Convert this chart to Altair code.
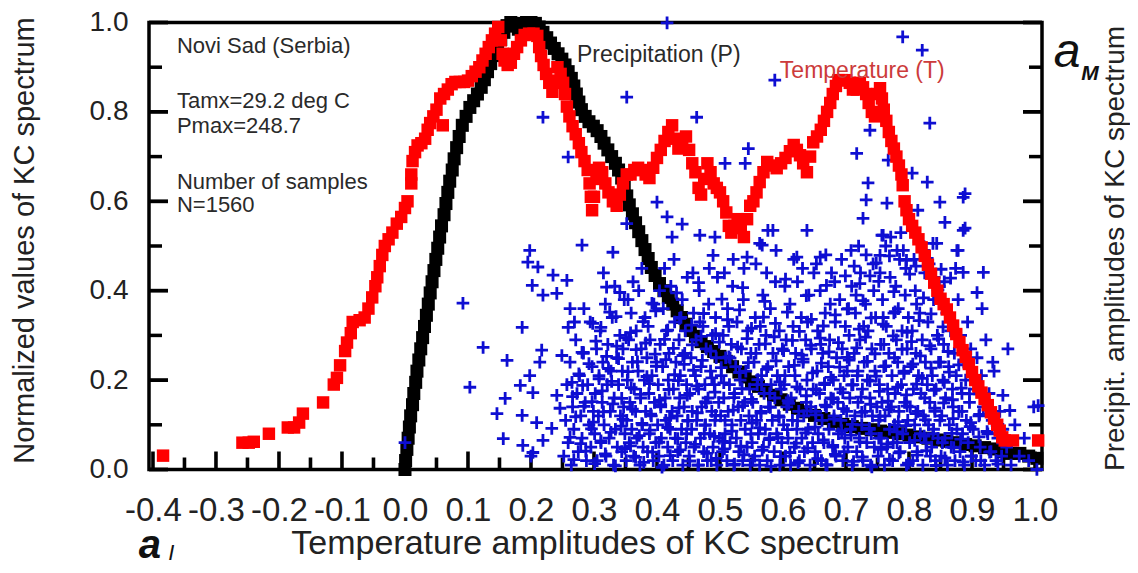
import altair as alt
import pandas as pd

FONT = "Liberation Sans"

# ---------------- data ----------------
temp_x = [-0.384, -0.258, -0.248, -0.240, -0.216, -0.186, -0.176, -0.168, -0.162, -0.130,
          -0.113, -0.108, -0.103, -0.095, -0.092, -0.086, -0.083, -0.072, -0.064, -0.058,
          -0.052, -0.047, -0.044, -0.040, -0.036, -0.032, -0.026, -0.020, -0.013, -0.006,
          0.000, 0.004, 0.010, 0.010, 0.012, 0.016, 0.020, 0.026, 0.032, 0.036,
          0.040, 0.045, 0.050, 0.056, 0.060, 0.062, 0.068, 0.074, 0.080, 0.087,
          0.094, 0.100, 0.106, 0.112, 0.118, 0.123, 0.128, 0.133, 0.138, 0.143,
          0.148, 0.152, 0.155, 0.158, 0.163, 0.168, 0.173, 0.178, 0.184, 0.190,
          0.197, 0.204, 0.210, 0.213, 0.216, 0.220, 0.224, 0.229, 0.234, 0.238,
          0.242, 0.247, 0.251, 0.254, 0.257, 0.261, 0.266, 0.271, 0.276, 0.280,
          0.285, 0.290, 0.293, 0.295, 0.297, 0.300, 0.304, 0.308, 0.313, 0.318,
          0.323, 0.330, 0.336, 0.341, 0.346, 0.352, 0.358, 0.364, 0.370, 0.376,
          0.382, 0.388, 0.394, 0.400, 0.406, 0.412, 0.418, 0.424, 0.429, 0.434,
          0.440, 0.446, 0.451, 0.456, 0.461, 0.466, 0.470, 0.475, 0.480, 0.485,
          0.490, 0.495, 0.500, 0.505, 0.510, 0.514, 0.518, 0.523, 0.528, 0.533,
          0.538, 0.543, 0.548, 0.553, 0.558, 0.563, 0.569, 0.575, 0.582, 0.590,
          0.597, 0.604, 0.611, 0.617, 0.622, 0.627, 0.632, 0.638, 0.643, 0.648,
          0.654, 0.660, 0.665, 0.670, 0.675, 0.679, 0.684, 0.688, 0.694, 0.700,
          0.706, 0.711, 0.717, 0.722, 0.727, 0.732, 0.736, 0.741, 0.746, 0.750,
          0.754, 0.757, 0.760, 0.764, 0.768, 0.772, 0.776, 0.780, 0.784, 0.788,
          0.790, 0.793, 0.796, 0.800, 0.805, 0.810, 0.815, 0.820, 0.825, 0.830,
          0.835, 0.840, 0.845, 0.850, 0.855, 0.860, 0.865, 0.870, 0.875, 0.880,
          0.885, 0.890, 0.895, 0.900, 0.905, 0.910, 0.915, 0.920, 0.925, 0.930,
          0.935, 0.940, 0.944, 0.948, 0.952, 0.965, 1.005]
temp_y = [0.031, 0.060, 0.060, 0.062, 0.080, 0.094, 0.094, 0.105, 0.125, 0.150,
          0.190, 0.205, 0.233, 0.265, 0.284, 0.305, 0.330, 0.334, 0.340, 0.360,
          0.385, 0.410, 0.430, 0.455, 0.480, 0.500, 0.515, 0.530, 0.550, 0.565,
          0.585, 0.600, 0.640, 0.660, 0.690, 0.710, 0.725, 0.730, 0.740, 0.760,
          0.775, 0.790, 0.805, 0.830, 0.770, 0.840, 0.850, 0.862, 0.867, 0.867,
          0.867, 0.870, 0.880, 0.890, 0.900, 0.915, 0.930, 0.945, 0.960, 0.975,
          0.990, 0.960, 0.930, 0.915, 0.905, 0.910, 0.930, 0.945, 0.960, 0.972,
          0.975, 0.975, 0.970, 0.945, 0.925, 0.905, 0.885, 0.865, 0.845, 0.870,
          0.900, 0.885, 0.865, 0.840, 0.812, 0.790, 0.768, 0.750, 0.730, 0.710,
          0.690, 0.670, 0.640, 0.610, 0.580, 0.610, 0.650, 0.675, 0.665, 0.640,
          0.620, 0.600, 0.590, 0.615, 0.640, 0.660, 0.660, 0.670, 0.675, 0.670,
          0.660, 0.652, 0.675, 0.697, 0.715, 0.735, 0.755, 0.770, 0.740, 0.718,
          0.730, 0.745, 0.715, 0.685, 0.665, 0.630, 0.615, 0.650, 0.685, 0.665,
          0.640, 0.630, 0.620, 0.600, 0.575, 0.545, 0.530, 0.545, 0.560, 0.540,
          0.520, 0.560, 0.590, 0.600, 0.620, 0.643, 0.665, 0.688, 0.680, 0.674,
          0.685, 0.697, 0.712, 0.726, 0.715, 0.703, 0.685, 0.665, 0.700, 0.732,
          0.745, 0.760, 0.780, 0.800, 0.820, 0.840, 0.858, 0.871, 0.871, 0.871,
          0.865, 0.850, 0.850, 0.865, 0.855, 0.840, 0.820, 0.800, 0.790, 0.840,
          0.853, 0.830, 0.805, 0.780, 0.755, 0.735, 0.718, 0.700, 0.680, 0.660,
          0.636, 0.600, 0.580, 0.560, 0.545, 0.530, 0.515, 0.497, 0.478, 0.458,
          0.438, 0.418, 0.400, 0.382, 0.370, 0.358, 0.340, 0.322, 0.303, 0.285,
          0.267, 0.252, 0.236, 0.218, 0.200, 0.186, 0.172, 0.158, 0.144, 0.128,
          0.114, 0.100, 0.087, 0.072, 0.065, 0.065, 0.065]

prec_x = [0.000, 0.001, 0.003, 0.005, 0.007, 0.009, 0.012, 0.014, 0.017, 0.019,
          0.022, 0.025, 0.028, 0.031, 0.034, 0.037, 0.040, 0.043, 0.046, 0.049,
          0.052, 0.055, 0.058, 0.062, 0.065, 0.068, 0.071, 0.075, 0.078, 0.082,
          0.086, 0.091, 0.097, 0.103, 0.109, 0.115, 0.121, 0.126, 0.131, 0.136,
          0.141, 0.147, 0.152, 0.157, 0.162, 0.168, 0.174, 0.180, 0.186, 0.193,
          0.200, 0.207, 0.213, 0.219, 0.225, 0.231, 0.237, 0.243, 0.249, 0.254,
          0.259, 0.264, 0.268, 0.272, 0.276, 0.280, 0.286, 0.292, 0.299, 0.305,
          0.311, 0.316, 0.322, 0.328, 0.334, 0.339, 0.344, 0.348, 0.352, 0.356,
          0.361, 0.366, 0.371, 0.376, 0.381, 0.386, 0.391, 0.397, 0.404, 0.411,
          0.418, 0.425, 0.432, 0.439, 0.446, 0.453, 0.461, 0.470, 0.480, 0.490,
          0.500, 0.510, 0.520, 0.530, 0.540, 0.550, 0.561, 0.573, 0.585, 0.597,
          0.610, 0.623, 0.636, 0.650, 0.665, 0.680, 0.695, 0.710, 0.725, 0.740,
          0.755, 0.770, 0.785, 0.800, 0.815, 0.830, 0.845, 0.860, 0.875, 0.890,
          0.905, 0.920, 0.935, 0.950, 0.962, 0.976, 0.990, 1.003]
prec_y = [0.000, 0.020, 0.045, 0.070, 0.095, 0.120, 0.145, 0.170, 0.195, 0.220,
          0.245, 0.270, 0.295, 0.320, 0.345, 0.370, 0.395, 0.420, 0.445, 0.470,
          0.495, 0.520, 0.545, 0.570, 0.595, 0.620, 0.645, 0.670, 0.695, 0.720,
          0.745, 0.770, 0.790, 0.810, 0.825, 0.840, 0.855, 0.872, 0.890, 0.908,
          0.926, 0.944, 0.962, 0.978, 0.993, 1.000, 0.992, 0.985, 0.998, 1.000,
          1.000, 0.998, 0.990, 0.978, 0.966, 0.954, 0.942, 0.930, 0.918, 0.905,
          0.890, 0.875, 0.858, 0.840, 0.822, 0.805, 0.790, 0.778, 0.768, 0.758,
          0.745, 0.730, 0.715, 0.700, 0.685, 0.670, 0.652, 0.632, 0.612, 0.592,
          0.572, 0.552, 0.532, 0.512, 0.492, 0.472, 0.452, 0.434, 0.416, 0.400,
          0.385, 0.370, 0.355, 0.340, 0.325, 0.311, 0.298, 0.286, 0.275, 0.264,
          0.253, 0.242, 0.230, 0.218, 0.207, 0.196, 0.186, 0.176, 0.166, 0.156,
          0.146, 0.137, 0.129, 0.121, 0.114, 0.107, 0.101, 0.096, 0.092, 0.089,
          0.086, 0.083, 0.080, 0.077, 0.073, 0.070, 0.066, 0.063, 0.060, 0.056,
          0.053, 0.049, 0.046, 0.040, 0.036, 0.036, 0.030, 0.025]

# KC sample crosses (x, y)
kc_points = [
    # sparse outliers
    (0.416, 0.999), (0.790, 0.968), (0.821, 0.938), (0.587, 0.871), (0.833, 0.775),
    (0.352, 0.833), (0.219, 0.788), (0.463, 0.788), (0.738, 0.759), (0.259, 0.699),
    (0.545, 0.718), (0.508, 0.685), (0.540, 0.685), (0.717, 0.707), (0.767, 0.692),
    (0.805, 0.663), (0.829, 0.643), (0.735, 0.641), (0.732, 0.603), (0.765, 0.596),
    (0.886, 0.609), (0.849, 0.598), (0.814, 0.580), (0.400, 0.598), (0.416, 0.565),
    (0.440, 0.549), (0.352, 0.550), (0.727, 0.562), (0.857, 0.553), (0.886, 0.535),
    (0.584, 0.535), (0.638, 0.535), (0.424, 0.520), (0.468, 0.524), (0.492, 0.520),
    (0.576, 0.535), (0.281, 0.502), (0.330, 0.486), (0.198, 0.490), (0.563, 0.506),
    (0.759, 0.524), (0.838, 0.506), (0.878, 0.490), (0.489, 0.479), (0.543, 0.475),
    (0.754, 0.479), (0.781, 0.490), (0.622, 0.475), (0.659, 0.475), (0.567, 0.502),
    (0.195, 0.464), (0.211, 0.453), (0.235, 0.435), (0.257, 0.423), (0.202, 0.412),
    (0.219, 0.390), (0.241, 0.394), (0.092, 0.372), (0.262, 0.360), (0.186, 0.318),
    (0.259, 0.318), (0.298, 0.327), (0.320, 0.408), (0.341, 0.396), (0.325, 0.352),
    (0.124, 0.273), (0.217, 0.267), (0.249, 0.255), (0.162, 0.244), (0.198, 0.210),
    (0.214, 0.240), (0.183, 0.188), (0.103, 0.184), (0.203, 0.172), (0.159, 0.159),
    (0.241, 0.166), (0.146, 0.125), (0.186, 0.121), (0.209, 0.105), (0.233, 0.092),
    (0.156, 0.069), (0.187, 0.054), (0.203, 0.038), (0.219, 0.065), (0.000, 0.060),
    (0.246, 0.137), (0.265, 0.195), (0.283, 0.262), (0.918, 0.441), (0.886, 0.441),
    (0.908, 0.396), (0.916, 0.360), (0.933, 0.240), (0.949, 0.166), (0.960, 0.132),
    (1.005, 0.143), (0.957, 0.270), (0.889, 0.617), (0.889, 0.540), (0.844, 0.506),
    (0.876, 0.490), (0.757, 0.524), (0.200, 0.030),
    (0.713, 0.455), (0.748, 0.462), (0.769, 0.478), (0.796, 0.468), (0.811, 0.455),
    (0.829, 0.472), (0.851, 0.448), (0.866, 0.428), (0.738, 0.433), (0.722, 0.416),
    # 0.25 - 0.30
    (0.252, 0.03), (0.255, 0.11), (0.257, 0.19), (0.259, 0.06), (0.262, 0.24),
    (0.264, 0.01), (0.266, 0.14), (0.268, 0.09), (0.271, 0.29), (0.273, 0.17),
    (0.275, 0.04), (0.277, 0.21), (0.279, 0.12), (0.281, 0.07), (0.283, 0.26),
    (0.286, 0.15), (0.288, 0.02), (0.290, 0.19), (0.292, 0.10), (0.294, 0.33),
    (0.295, 0.05), (0.297, 0.23), (0.299, 0.13), (0.269, 0.33), (0.284, 0.36),
    # 0.30 - 0.35
    (0.301, 0.08), (0.302, 0.17), (0.304, 0.27), (0.305, 0.02), (0.307, 0.12),
    (0.308, 0.21), (0.310, 0.31), (0.311, 0.06), (0.313, 0.15), (0.314, 0.24),
    (0.316, 0.10), (0.318, 0.37), (0.319, 0.03), (0.321, 0.19), (0.322, 0.28),
    (0.324, 0.07), (0.326, 0.13), (0.327, 0.22), (0.329, 0.34), (0.331, 0.01),
    (0.332, 0.16), (0.334, 0.09), (0.336, 0.25), (0.337, 0.05), (0.339, 0.19),
    (0.341, 0.30), (0.342, 0.12), (0.344, 0.04), (0.345, 0.22), (0.347, 0.14),
    (0.348, 0.38), (0.349, 0.08), (0.333, 0.41), (0.315, 0.44), (0.346, 0.27),
    # 0.35 - 0.40
    (0.351, 0.02), (0.352, 0.11), (0.353, 0.20), (0.355, 0.29), (0.356, 0.06),
    (0.357, 0.15), (0.359, 0.35), (0.360, 0.09), (0.361, 0.24), (0.363, 0.03),
    (0.364, 0.18), (0.366, 0.13), (0.367, 0.31), (0.368, 0.07), (0.370, 0.22),
    (0.371, 0.40), (0.373, 0.01), (0.374, 0.16), (0.375, 0.27), (0.377, 0.10),
    (0.378, 0.05), (0.380, 0.20), (0.381, 0.34), (0.382, 0.13), (0.384, 0.25),
    (0.385, 0.04), (0.387, 0.17), (0.388, 0.08), (0.389, 0.29), (0.391, 0.12),
    (0.392, 0.21), (0.394, 0.02), (0.395, 0.37), (0.396, 0.15), (0.398, 0.06),
    (0.399, 0.24), (0.362, 0.42), (0.376, 0.45), (0.386, 0.32), (0.354, 0.38),
    # 0.40 - 0.45
    (0.401, 0.10), (0.402, 0.19), (0.403, 0.03), (0.405, 0.28), (0.406, 0.14),
    (0.407, 0.07), (0.409, 0.23), (0.410, 0.36), (0.411, 0.01), (0.413, 0.16),
    (0.414, 0.11), (0.415, 0.31), (0.417, 0.05), (0.418, 0.20), (0.419, 0.26),
    (0.421, 0.09), (0.422, 0.41), (0.424, 0.13), (0.425, 0.02), (0.426, 0.18),
    (0.428, 0.33), (0.429, 0.07), (0.430, 0.24), (0.432, 0.12), (0.433, 0.04),
    (0.435, 0.29), (0.436, 0.16), (0.437, 0.21), (0.439, 0.09), (0.440, 0.38),
    (0.441, 0.01), (0.443, 0.14), (0.444, 0.26), (0.446, 0.06), (0.447, 0.19),
    (0.448, 0.43), (0.449, 0.11), (0.412, 0.45), (0.427, 0.47), (0.438, 0.34),
    (0.404, 0.40), (0.445, 0.31),
    # 0.45 - 0.50
    (0.451, 0.03), (0.452, 0.17), (0.454, 0.25), (0.455, 0.09), (0.456, 0.13),
    (0.458, 0.35), (0.459, 0.05), (0.461, 0.21), (0.462, 0.29), (0.463, 0.11),
    (0.465, 0.01), (0.466, 0.18), (0.467, 0.40), (0.469, 0.07), (0.470, 0.23),
    (0.471, 0.14), (0.473, 0.32), (0.474, 0.04), (0.476, 0.19), (0.477, 0.10),
    (0.478, 0.27), (0.480, 0.02), (0.481, 0.16), (0.482, 0.37), (0.484, 0.08),
    (0.485, 0.22), (0.487, 0.13), (0.488, 0.30), (0.489, 0.05), (0.491, 0.19),
    (0.492, 0.11), (0.494, 0.25), (0.495, 0.01), (0.496, 0.43), (0.498, 0.15),
    (0.499, 0.07), (0.457, 0.44), (0.468, 0.33), (0.483, 0.45), (0.493, 0.34),
    (0.475, 0.08), (0.486, 0.02),
    # 0.50 - 0.55
    (0.501, 0.12), (0.502, 0.21), (0.504, 0.04), (0.505, 0.30), (0.506, 0.16),
    (0.508, 0.08), (0.509, 0.25), (0.511, 0.02), (0.512, 0.36), (0.513, 0.13),
    (0.515, 0.19), (0.516, 0.06), (0.518, 0.28), (0.519, 0.10), (0.520, 0.41),
    (0.522, 0.01), (0.523, 0.17), (0.525, 0.23), (0.526, 0.07), (0.527, 0.33),
    (0.529, 0.14), (0.530, 0.04), (0.532, 0.20), (0.533, 0.11), (0.534, 0.27),
    (0.536, 0.02), (0.537, 0.38), (0.539, 0.15), (0.540, 0.09), (0.541, 0.22),
    (0.543, 0.05), (0.544, 0.31), (0.546, 0.12), (0.547, 0.18), (0.548, 0.01),
    (0.549, 0.26), (0.507, 0.44), (0.521, 0.47), (0.538, 0.45), (0.514, 0.32),
    # 0.55 - 0.60
    (0.551, 0.06), (0.552, 0.15), (0.554, 0.24), (0.555, 0.03), (0.556, 0.34),
    (0.558, 0.11), (0.559, 0.19), (0.561, 0.08), (0.562, 0.28), (0.563, 0.01),
    (0.565, 0.13), (0.566, 0.21), (0.568, 0.39), (0.569, 0.05), (0.570, 0.17),
    (0.572, 0.09), (0.573, 0.30), (0.575, 0.02), (0.576, 0.23), (0.577, 0.14),
    (0.579, 0.07), (0.580, 0.36), (0.581, 0.19), (0.583, 0.11), (0.584, 0.26),
    (0.586, 0.04), (0.587, 0.16), (0.588, 0.42), (0.590, 0.08), (0.591, 0.21),
    (0.593, 0.12), (0.594, 0.31), (0.595, 0.01), (0.597, 0.18), (0.598, 0.06),
    (0.599, 0.27), (0.557, 0.46), (0.574, 0.44), (0.589, 0.49), (0.564, 0.32),
    # 0.60 - 0.65
    (0.601, 0.10), (0.602, 0.19), (0.604, 0.03), (0.605, 0.29), (0.606, 0.14),
    (0.608, 0.07), (0.609, 0.23), (0.611, 0.37), (0.612, 0.01), (0.613, 0.16),
    (0.615, 0.11), (0.616, 0.32), (0.618, 0.05), (0.619, 0.21), (0.620, 0.26),
    (0.622, 0.09), (0.623, 0.42), (0.625, 0.13), (0.626, 0.02), (0.627, 0.18),
    (0.629, 0.34), (0.630, 0.07), (0.632, 0.24), (0.633, 0.12), (0.634, 0.04),
    (0.636, 0.29), (0.637, 0.15), (0.638, 0.20), (0.640, 0.09), (0.641, 0.39),
    (0.643, 0.01), (0.644, 0.14), (0.645, 0.27), (0.647, 0.06), (0.648, 0.18),
    (0.649, 0.44), (0.617, 0.47), (0.631, 0.45), (0.639, 0.33), (0.603, 0.41),
    # 0.65 - 0.70
    (0.651, 0.04), (0.652, 0.13), (0.654, 0.22), (0.655, 0.31), (0.656, 0.08),
    (0.658, 0.17), (0.659, 0.40), (0.661, 0.02), (0.662, 0.11), (0.663, 0.26),
    (0.665, 0.06), (0.666, 0.19), (0.667, 0.35), (0.669, 0.14), (0.670, 0.01),
    (0.672, 0.23), (0.673, 0.09), (0.674, 0.29), (0.676, 0.16), (0.677, 0.44),
    (0.679, 0.05), (0.680, 0.20), (0.681, 0.12), (0.683, 0.33), (0.684, 0.03),
    (0.685, 0.25), (0.687, 0.15), (0.688, 0.08), (0.690, 0.38), (0.691, 0.18),
    (0.692, 0.11), (0.694, 0.27), (0.695, 0.02), (0.697, 0.21), (0.698, 0.07),
    (0.699, 0.32), (0.653, 0.46), (0.668, 0.48), (0.682, 0.42), (0.693, 0.47),
    (0.675, 0.37), (0.660, 0.28),
    # 0.70 - 0.75
    (0.701, 0.13), (0.702, 0.22), (0.703, 0.05), (0.705, 0.30), (0.706, 0.16),
    (0.707, 0.09), (0.709, 0.41), (0.710, 0.01), (0.711, 0.19), (0.713, 0.26),
    (0.714, 0.12), (0.715, 0.35), (0.717, 0.04), (0.718, 0.21), (0.719, 0.15),
    (0.721, 0.07), (0.722, 0.29), (0.723, 0.44), (0.725, 0.10), (0.726, 0.18),
    (0.727, 0.02), (0.729, 0.24), (0.730, 0.13), (0.731, 0.37), (0.733, 0.06),
    (0.734, 0.20), (0.735, 0.31), (0.737, 0.09), (0.738, 0.16), (0.739, 0.01),
    (0.741, 0.27), (0.742, 0.12), (0.743, 0.46), (0.745, 0.05), (0.746, 0.22),
    (0.747, 0.34), (0.749, 0.14), (0.708, 0.49), (0.720, 0.50), (0.732, 0.48),
    (0.744, 0.40), (0.716, 0.39), (0.728, 0.32), (0.704, 0.36), (0.740, 0.08),
    # 0.75 - 0.80
    (0.751, 0.03), (0.752, 0.11), (0.753, 0.19), (0.755, 0.28), (0.756, 0.07),
    (0.757, 0.15), (0.758, 0.38), (0.760, 0.23), (0.761, 0.01), (0.762, 0.12),
    (0.764, 0.32), (0.765, 0.05), (0.766, 0.18), (0.768, 0.26), (0.769, 0.09),
    (0.770, 0.43), (0.772, 0.14), (0.773, 0.21), (0.774, 0.02), (0.776, 0.35),
    (0.777, 0.10), (0.778, 0.17), (0.780, 0.29), (0.781, 0.06), (0.782, 0.24),
    (0.784, 0.13), (0.785, 0.47), (0.786, 0.04), (0.788, 0.19), (0.789, 0.31),
    (0.790, 0.08), (0.792, 0.22), (0.793, 0.15), (0.794, 0.39), (0.796, 0.01),
    (0.797, 0.27), (0.798, 0.11), (0.799, 0.34), (0.754, 0.44), (0.763, 0.50),
    (0.771, 0.52), (0.779, 0.41), (0.787, 0.53), (0.795, 0.45), (0.759, 0.34),
    (0.775, 0.06), (0.783, 0.36), (0.791, 0.49),
    # 0.80 - 0.85
    (0.801, 0.06), (0.802, 0.14), (0.803, 0.23), (0.805, 0.31), (0.806, 0.02),
    (0.807, 0.18), (0.809, 0.10), (0.810, 0.40), (0.811, 0.26), (0.813, 0.04),
    (0.814, 0.13), (0.815, 0.21), (0.817, 0.35), (0.818, 0.08), (0.819, 0.17),
    (0.821, 0.29), (0.822, 0.01), (0.823, 0.12), (0.825, 0.44), (0.826, 0.24),
    (0.827, 0.06), (0.829, 0.19), (0.830, 0.33), (0.831, 0.10), (0.833, 0.15),
    (0.834, 0.03), (0.835, 0.27), (0.837, 0.21), (0.838, 0.08), (0.839, 0.38),
    (0.841, 0.13), (0.842, 0.02), (0.843, 0.18), (0.845, 0.30), (0.846, 0.07),
    (0.847, 0.24), (0.849, 0.11), (0.808, 0.47), (0.816, 0.51), (0.824, 0.49),
    (0.832, 0.46), (0.840, 0.43), (0.848, 0.41), (0.812, 0.37), (0.836, 0.05),
    # 0.85 - 0.90
    (0.851, 0.03), (0.852, 0.12), (0.854, 0.20), (0.855, 0.28), (0.857, 0.07),
    (0.858, 0.16), (0.860, 0.35), (0.861, 0.01), (0.863, 0.23), (0.864, 0.10),
    (0.866, 0.31), (0.867, 0.05), (0.869, 0.18), (0.870, 0.14), (0.872, 0.26),
    (0.873, 0.02), (0.875, 0.21), (0.876, 0.09), (0.878, 0.38), (0.879, 0.13),
    (0.881, 0.04), (0.882, 0.30), (0.884, 0.17), (0.885, 0.08), (0.887, 0.24),
    (0.888, 0.01), (0.890, 0.20), (0.891, 0.11), (0.893, 0.33), (0.894, 0.06),
    (0.896, 0.15), (0.898, 0.27), (0.899, 0.03), (0.856, 0.42), (0.874, 0.45),
    # 0.90 - 0.95
    (0.902, 0.09), (0.904, 0.18), (0.906, 0.02), (0.908, 0.25), (0.911, 0.12),
    (0.913, 0.05), (0.915, 0.21), (0.918, 0.14), (0.920, 0.01), (0.922, 0.29),
    (0.925, 0.08), (0.927, 0.17), (0.930, 0.04), (0.932, 0.11), (0.935, 0.22),
    (0.938, 0.02), (0.941, 0.07), (0.944, 0.13), (0.947, 0.03), (0.949, 0.09),
    # 0.95 - 1.01
    (0.955, 0.05), (0.962, 0.01), (0.968, 0.10), (0.975, 0.03), (0.983, 0.07),
    (0.990, 0.02), (0.998, 0.14), (1.003, 0.00),
    # extra crosses, y 0.00 - 0.05
    (0.268, 0.022), (0.287, 0.041), (0.301, 0.013), (0.318, 0.035), (0.334, 0.008),
    (0.349, 0.047), (0.366, 0.027), (0.379, 0.016), (0.393, 0.039), (0.408, 0.005),
    (0.421, 0.031), (0.437, 0.044), (0.452, 0.019), (0.466, 0.010), (0.479, 0.036),
    (0.494, 0.025), (0.507, 0.046), (0.523, 0.012), (0.538, 0.033), (0.552, 0.021),
    (0.567, 0.043), (0.581, 0.007), (0.596, 0.029), (0.611, 0.038), (0.624, 0.015),
    (0.639, 0.048), (0.655, 0.024), (0.668, 0.011), (0.683, 0.034), (0.697, 0.040),
    (0.712, 0.018), (0.726, 0.028), (0.741, 0.006), (0.756, 0.045), (0.769, 0.023),
    (0.784, 0.037), (0.799, 0.014), (0.813, 0.032), (0.828, 0.042), (0.843, 0.009),
    (0.857, 0.026), (0.871, 0.049), (0.886, 0.017), (0.899, 0.030), (0.914, 0.020),
    (0.928, 0.039), (0.941, 0.012),
    # extra crosses, y 0.05 - 0.10
    (0.262, 0.072), (0.279, 0.058), (0.296, 0.091), (0.311, 0.064), (0.327, 0.083),
    (0.343, 0.097), (0.358, 0.053), (0.372, 0.076), (0.389, 0.088), (0.403, 0.061),
    (0.417, 0.094), (0.433, 0.069), (0.447, 0.080), (0.461, 0.056), (0.476, 0.099),
    (0.491, 0.074), (0.504, 0.063), (0.519, 0.086), (0.533, 0.052), (0.549, 0.079),
    (0.563, 0.093), (0.578, 0.067), (0.592, 0.071), (0.607, 0.089), (0.621, 0.059),
    (0.636, 0.082), (0.651, 0.095), (0.664, 0.066), (0.679, 0.054), (0.693, 0.087),
    (0.708, 0.077), (0.722, 0.062), (0.737, 0.092), (0.752, 0.070), (0.766, 0.057),
    (0.781, 0.084), (0.795, 0.098), (0.809, 0.065), (0.824, 0.075), (0.839, 0.090),
    (0.853, 0.060), (0.868, 0.081), (0.882, 0.068), (0.897, 0.096), (0.911, 0.073),
    (0.924, 0.085),
    # extra crosses, y 0.10 - 0.15
    (0.271, 0.118), (0.284, 0.141), (0.299, 0.106), (0.315, 0.129), (0.330, 0.147),
    (0.346, 0.112), (0.361, 0.135), (0.376, 0.103), (0.390, 0.124), (0.406, 0.145),
    (0.420, 0.115), (0.435, 0.138), (0.449, 0.108), (0.464, 0.127), (0.478, 0.149),
    (0.493, 0.121), (0.508, 0.110), (0.521, 0.133), (0.536, 0.143), (0.551, 0.104),
    (0.565, 0.126), (0.580, 0.139), (0.594, 0.117), (0.609, 0.148), (0.623, 0.109),
    (0.638, 0.131), (0.652, 0.122), (0.667, 0.144), (0.681, 0.113), (0.696, 0.136),
    (0.710, 0.101), (0.725, 0.128), (0.739, 0.146), (0.754, 0.119), (0.768, 0.134),
    (0.783, 0.107), (0.797, 0.142), (0.811, 0.125), (0.826, 0.111), (0.841, 0.137),
    (0.855, 0.149), (0.870, 0.114), (0.884, 0.130), (0.898, 0.105), (0.912, 0.123),
    # extra crosses, y 0.15 - 0.20
    (0.266, 0.163), (0.282, 0.188), (0.297, 0.152), (0.313, 0.176), (0.328, 0.197),
    (0.344, 0.159), (0.359, 0.183), (0.374, 0.168), (0.388, 0.192), (0.404, 0.155),
    (0.419, 0.179), (0.434, 0.199), (0.448, 0.166), (0.463, 0.187), (0.477, 0.151),
    (0.492, 0.173), (0.506, 0.194), (0.522, 0.161), (0.535, 0.181), (0.550, 0.157),
    (0.566, 0.190), (0.579, 0.170), (0.595, 0.196), (0.608, 0.154), (0.622, 0.185),
    (0.637, 0.165), (0.653, 0.178), (0.666, 0.193), (0.680, 0.158), (0.695, 0.172),
    (0.709, 0.189), (0.724, 0.162), (0.738, 0.198), (0.753, 0.175), (0.767, 0.153),
    (0.782, 0.184), (0.796, 0.167), (0.812, 0.191), (0.825, 0.160), (0.840, 0.177),
    (0.856, 0.195), (0.869, 0.156), (0.883, 0.182), (0.896, 0.169),
    # extra crosses, y 0.20 - 0.25
    (0.276, 0.214), (0.292, 0.237), (0.308, 0.203), (0.323, 0.226), (0.339, 0.248),
    (0.354, 0.219), (0.369, 0.241), (0.384, 0.208), (0.399, 0.231), (0.414, 0.246),
    (0.428, 0.212), (0.443, 0.235), (0.458, 0.222), (0.472, 0.244), (0.487, 0.205),
    (0.502, 0.228), (0.516, 0.249), (0.531, 0.217), (0.545, 0.239), (0.560, 0.201),
    (0.574, 0.224), (0.589, 0.243), (0.603, 0.210), (0.618, 0.233), (0.632, 0.247),
    (0.647, 0.216), (0.661, 0.238), (0.676, 0.206), (0.690, 0.229), (0.705, 0.245),
    (0.719, 0.220), (0.734, 0.242), (0.748, 0.209), (0.763, 0.232), (0.777, 0.250),
    (0.792, 0.215), (0.806, 0.236), (0.821, 0.204), (0.835, 0.227), (0.850, 0.240),
    (0.864, 0.218), (0.879, 0.234),
    # extra crosses, y 0.25 - 0.30
    (0.281, 0.262), (0.303, 0.287), (0.320, 0.253), (0.336, 0.276), (0.351, 0.295),
    (0.367, 0.268), (0.382, 0.283), (0.397, 0.258), (0.412, 0.291), (0.426, 0.271),
    (0.441, 0.255), (0.456, 0.279), (0.470, 0.298), (0.485, 0.265), (0.499, 0.285),
    (0.514, 0.252), (0.528, 0.274), (0.543, 0.293), (0.557, 0.260), (0.572, 0.281),
    (0.586, 0.297), (0.601, 0.266), (0.615, 0.289), (0.630, 0.256), (0.644, 0.278),
    (0.659, 0.294), (0.673, 0.263), (0.688, 0.284), (0.702, 0.251), (0.717, 0.272),
    (0.731, 0.296), (0.746, 0.259), (0.760, 0.280), (0.775, 0.299), (0.789, 0.269),
    (0.804, 0.286), (0.818, 0.254), (0.833, 0.277), (0.847, 0.292), (0.862, 0.264),
    # extra crosses, y 0.30 - 0.36
    (0.311, 0.318), (0.335, 0.342), (0.358, 0.306), (0.378, 0.331), (0.398, 0.355),
    (0.417, 0.312), (0.436, 0.338), (0.455, 0.323), (0.474, 0.349), (0.493, 0.304),
    (0.512, 0.335), (0.531, 0.357), (0.550, 0.316), (0.569, 0.341), (0.588, 0.327),
    (0.607, 0.352), (0.626, 0.309), (0.645, 0.336), (0.664, 0.321), (0.683, 0.346),
    (0.702, 0.359), (0.721, 0.314), (0.740, 0.339), (0.759, 0.325), (0.778, 0.353),
    (0.797, 0.307), (0.816, 0.333), (0.835, 0.348), (0.854, 0.319),
    # extra crosses, y 0.36 - 0.44
    (0.392, 0.372), (0.431, 0.395), (0.466, 0.418), (0.503, 0.381), (0.536, 0.407),
    (0.571, 0.376), (0.604, 0.426), (0.637, 0.389), (0.669, 0.412), (0.699, 0.433),
    (0.727, 0.378), (0.752, 0.421), (0.776, 0.398), (0.801, 0.437), (0.823, 0.384),
    (0.846, 0.402),
]

x_major_ticks = [-0.4, -0.3, -0.2, -0.1, 0.0, 0.1, 0.2, 0.3, 0.4, 0.5, 0.6, 0.7, 0.8, 0.9, 1.0]
x_minor_ticks = [-0.35, -0.25, -0.15, -0.05, 0.05, 0.15, 0.25, 0.35, 0.45, 0.55, 0.65, 0.75, 0.85, 0.95]
y_major_ticks = [0.0, 0.2, 0.4, 0.6, 0.8, 1.0]
y_minor_ticks = [0.1, 0.3, 0.5, 0.7, 0.9]

info_text = ["Novi Sad (Serbia)", "Tamx=29.2 deg C", "Pmax=248.7", "Number of samples", "N=1560"]
info_x = [-0.362, -0.362, -0.362, -0.362, -0.362]
info_y = [0.932, 0.8085, 0.7525, 0.627, 0.5756]

series_text = ["Precipitation (P)", "Temperature (T)"]
series_x = [0.273, 0.595]
series_y = [0.9115, 0.876]
series_color = ["#2a2a2a", "#cc3b3b"]

# ---------------- layout constants ----------------
W, H = 893, 447
X_MIN, X_MAX = -0.4063, 1.0111
Y_MIN, Y_MAX = 0.0, 1.0

xs = alt.Scale(domain=[X_MIN, X_MAX], nice=False, zero=False)
ys = alt.Scale(domain=[Y_MIN, Y_MAX], nice=False, zero=False)

# filled bar-shaped symbol paths (anchored at the frame edge, pointing inward)
UP_MAJ = "M-0.2,0L0.2,0L0.2,-2L-0.2,-2Z"
UP_MIN = "M-0.3,0L0.3,0L0.3,-2L-0.3,-2Z"
RIGHT_MAJ = "M0,-0.2L2,-0.2L2,0.2L0,0.2Z"
RIGHT_MIN = "M0,-0.27L2,-0.27L2,0.27L0,0.27Z"
LEFT_MAJ = "M0,-0.2L-2,-0.2L-2,0.2L0,0.2Z"
LEFT_MIN = "M0,-0.27L-2,-0.27L-2,0.27L0,0.27Z"

def tick_rows(xv, yv, path, length_px):
    return pd.DataFrame({"x": xv, "y": yv, "shp": [path] * len(xv),
                         "sz": [length_px * length_px] * len(xv)})

# precipitation squares and frame ticks share one black symbol layer
black_df = pd.concat([
    pd.DataFrame({"x": prec_x, "y": prec_y, "shp": ["square"] * len(prec_x),
                  "sz": [170] * len(prec_x)}),
    tick_rows(x_major_ticks, [Y_MIN] * len(x_major_ticks), UP_MAJ, 18),
    tick_rows(x_minor_ticks, [Y_MIN] * len(x_minor_ticks), UP_MIN, 12),
    tick_rows([X_MIN] * len(y_major_ticks), y_major_ticks, RIGHT_MAJ, 19),
    tick_rows([X_MIN] * len(y_minor_ticks), y_minor_ticks, RIGHT_MIN, 13),
    tick_rows([X_MAX] * len(y_major_ticks), y_major_ticks, LEFT_MAJ, 19),
    tick_rows([X_MAX] * len(y_minor_ticks), y_minor_ticks, LEFT_MIN, 13),
], ignore_index=True)

# ---------------- frames ----------------
temp_df = pd.DataFrame({"x": temp_x, "y": temp_y})
kc_df = pd.DataFrame(kc_points, columns=["x", "y"])
info_df = pd.DataFrame({"t": info_text, "x": info_x, "y": info_y})
series_df = pd.DataFrame({"t": series_text, "x": series_x, "y": series_y, "c": series_color})
am_df = pd.DataFrame({"t": ["a"], "x": [1.0508], "y": [0.9003]})
am_sub_df = pd.DataFrame({"t": ["M"], "x": [1.0873], "y": [0.871]})
ai_df = pd.DataFrame({"t": ["a"], "x": [-0.405], "y": [-0.197]})
ai_sub_df = pd.DataFrame({"t": ["I"], "x": [-0.371], "y": [-0.2016]})

plain = dict(ticks=False, domain=False, grid=False)

x_axis = alt.Axis(
    orient="bottom", values=x_major_ticks, offset=0,
    labelExpr="(datum.value < 0 ? '-' : '') + format(abs(datum.value), '.1f')",
    labelFont=FONT, labelFontSize=33, labelColor="#222", labelPadding=25,
    labelFlush=False, labelOverlap=False,
    title="Temperature amplitudes of KC spectrum", titleFont=FONT, titleFontSize=34,
    titleFontWeight="normal", titleColor="#222", titleX=446, titleY=84,
    titleBaseline="alphabetic", titleAlign="center", **plain)
y_axis = alt.Axis(
    orient="left", values=y_major_ticks, format=".1f", offset=0,
    labelFont=FONT, labelFontSize=28, labelColor="#222", labelPadding=21,
    labelFlush=False, labelOverlap=False,
    title="Normalized values of KC spectrum", titleFont=FONT, titleFontSize=29,
    titleFontWeight="normal", titleColor="#222", titleAngle=270, titleX=-116,
    titleY=217.5, titleBaseline="alphabetic", titleAlign="center", **plain)
r_axis = alt.Axis(
    orient="right", values=y_major_ticks, offset=0, labels=False,
    title="Precipit. amplitudes of KC spectrum", titleFont=FONT, titleFontSize=28,
    titleFontWeight="normal", titleColor="#222", titleAngle=270, titleX=81,
    titleY=225.5, titleBaseline="alphabetic", titleAlign="center", **plain)

cross_path = "M-1,0H1M0,-1V1"

black_layer = alt.Chart(black_df).mark_point(
    filled=True, color="black", opacity=1
).encode(x=alt.X("x:Q", scale=xs, axis=x_axis),
         y=alt.Y("y:Q", scale=ys, axis=y_axis),
         shape=alt.Shape("shp:N", scale=None, legend=None),
         size=alt.Size("sz:Q", scale=None, legend=None))

kc_layer = alt.Chart(kc_df).mark_point(
    shape=cross_path, filled=False, size=160, color="#0e0ed2", strokeWidth=2.8, opacity=1
).encode(x=alt.X("x:Q", scale=xs, axis=None),
         y=alt.Y("y:Q", scale=ys, axis=None))

temp_layer = alt.Chart(temp_df).mark_point(
    shape="square", filled=True, size=155, color="#ff0000", opacity=1
).encode(x=alt.X("x:Q", scale=xs, axis=None),
         y=alt.Y("y:Q", scale=ys, axis=r_axis))

info_layer = alt.Chart(info_df).mark_text(
    align="left", baseline="alphabetic", font=FONT, fontSize=22, color="#2a2a2a"
).encode(x=alt.X("x:Q", scale=xs, axis=None),
         y=alt.Y("y:Q", scale=ys, axis=None), text="t:N")

series_layer = alt.Chart(series_df).mark_text(
    align="left", baseline="alphabetic", font=FONT, fontSize=23
).encode(x=alt.X("x:Q", scale=xs, axis=None),
         y=alt.Y("y:Q", scale=ys, axis=None), text="t:N",
         color=alt.Color("c:N", scale=None))

am_layer = alt.Chart(am_df).mark_text(
    align="center", baseline="alphabetic", font=FONT, fontSize=48, fontStyle="italic", color="#111"
).encode(x=alt.X("x:Q", scale=xs, axis=None), y=alt.Y("y:Q", scale=ys, axis=None), text="t:N")
am_sub_layer = alt.Chart(am_sub_df).mark_text(
    align="center", baseline="alphabetic", font=FONT, fontSize=21, fontStyle="italic",
    fontWeight="bold", color="#111"
).encode(x=alt.X("x:Q", scale=xs, axis=None), y=alt.Y("y:Q", scale=ys, axis=None), text="t:N")
ai_layer = alt.Chart(ai_df).mark_text(
    align="center", baseline="alphabetic", font=FONT, fontSize=40, fontStyle="italic",
    fontWeight="bold", color="#111"
).encode(x=alt.X("x:Q", scale=xs, axis=None), y=alt.Y("y:Q", scale=ys, axis=None), text="t:N")
ai_sub_layer = alt.Chart(ai_sub_df).mark_text(
    align="center", baseline="alphabetic", font=FONT, fontSize=22, fontStyle="italic",
    color="#111"
).encode(x=alt.X("x:Q", scale=xs, axis=None), y=alt.Y("y:Q", scale=ys, axis=None), text="t:N")

chart = alt.layer(
    black_layer, kc_layer, temp_layer,
    info_layer, series_layer,
    am_layer, am_sub_layer, ai_layer, ai_sub_layer
).resolve_axis(
    x="independent", y="independent"
).properties(
    width=W, height=H,
    autosize=alt.AutoSizeParams(type="none"),
    padding={"left": 141, "top": 14.5, "right": 88, "bottom": 90},
    background="white",
).configure_view(
    stroke="black", strokeWidth=3.5
)

chart.save("out.html", embed_options={"renderer": "svg", "actions": False})
